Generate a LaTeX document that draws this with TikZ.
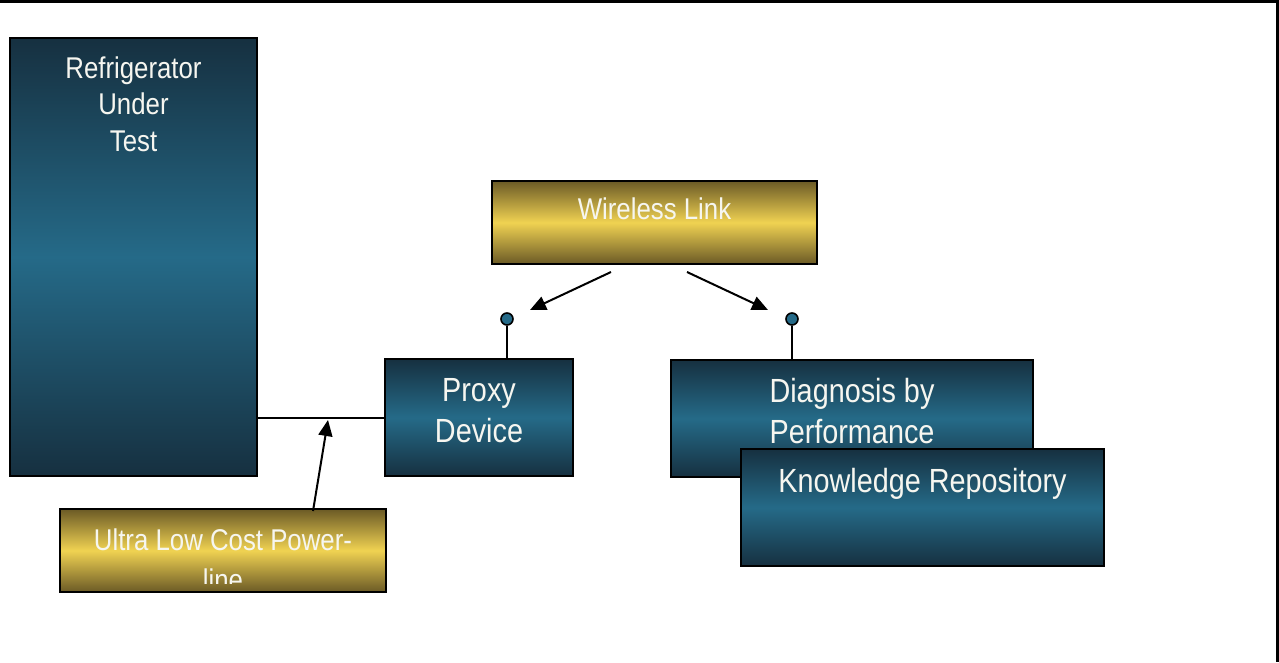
\documentclass[tikz,border=0pt]{standalone}
\usepackage{fontspec}
\newfontfamily\lab{Liberation Sans}[FakeStretch=0.86]
\usetikzlibrary{arrows.meta}
\definecolor{blueDark}{HTML}{163040}
\definecolor{blueMid}{HTML}{256A88}
\definecolor{goldDark}{HTML}{6B5A26}
\definecolor{goldMid}{HTML}{F0D252}
\definecolor{labText}{HTML}{F6F6F0}
\tikzset{
  bluebox/.style={draw=black, line width=2pt, rectangle, inner sep=0pt,
    top color=blueDark, bottom color=blueDark, middle color=blueMid},
  goldbox/.style={draw=black, line width=2pt, rectangle, inner sep=0pt,
    top color=goldDark, bottom color=goldDark, middle color=goldMid},
  % base anchor of a multi-line label sits on its last line
  lbl/.style={text=labText, align=center, inner sep=0pt, anchor=base},
  small/.style={font=\lab\fontsize{30}{36.5}\selectfont},
  large/.style={font=\lab\fontsize{33.5}{41}\selectfont},
  conn/.style={draw=black, line width=2pt},
  arrowconn/.style={conn, -{Triangle[length=16pt,width=14pt]}},
  antenna/.style={circle, draw=black, line width=1.6pt, fill=blueMid,
    minimum size=12pt, inner sep=0pt},
}
\begin{document}
\begin{tikzpicture}[x=1pt, y=-1pt]
  \useasboundingbox (0,0) rectangle (1279,662);
  % frame edges
  \draw[line width=3pt] (0,1.5) -- (1279,1.5);
  \draw[line width=3pt] (1277.5,0) -- (1277.5,662);

  % refrigerator
  \node[bluebox, minimum width=247pt, minimum height=438pt] (ref) at (133.5,257) {};
  \node[lbl, small] (refT) at ([yshift=-114pt]ref.north) {Refrigerator\\Under\\Test};

  % proxy device
  \node[bluebox, minimum width=188pt, minimum height=117pt] (proxy) at (479,417.5) {};
  \node[lbl, large] (proxyT) at ([yshift=-84pt]proxy.north) {Proxy\\Device};

  % wireless link
  \node[goldbox, minimum width=325pt, minimum height=83pt] (wl) at (654.5,222.5) {};
  \node[lbl, small] (wlT) at ([yshift=-39pt]wl.north) {Wireless Link};

  % power-line (second line runs past the box and is cut off)
  \node[goldbox, minimum width=326pt, minimum height=83pt] (ulc) at (223,550.5) {};
  \begin{scope}
    \clip (ulc.north west) rectangle ([yshift=10pt]ulc.south east);
    \node[lbl, font=\lab\fontsize{30}{40}\selectfont] (ulcT)
      at ([yshift=-82pt]ulc.north) {Ultra Low Cost Power-\\line};
  \end{scope}

  % diagnosis and repository
  \node[bluebox, minimum width=362pt, minimum height=117pt] (diag) at (852,418.5) {};
  \node[lbl, large] (diagT) at ([yshift=-84pt]diag.north) {Diagnosis by\\Performance};
  \node[bluebox, minimum width=363pt, minimum height=117pt] (repo) at (922.5,507.5) {};
  \node[lbl, large] (repoT) at ([yshift=-44pt]repo.north) {Knowledge Repository};

  % power-line link
  \draw[conn] (proxy.west) -- (proxy.west -| ref.east);
  \coordinate (tap) at (328,420);
  \draw[arrowconn] ([xshift=90pt, yshift=-3pt]ulc.north) -- (tap);

  % antennas
  \node[antenna] (antP) at (507,319) {};
  \node[antenna] (antD) at (792,319) {};
  \draw[conn, line width=1.6pt] (antP) -- (antP |- proxy.north);
  \draw[conn, line width=1.6pt] (antD) -- (antD |- diag.north);

  % radio links
  \coordinate (wlA) at (611,272);
  \coordinate (wlB) at (687,272);
  \coordinate (rxP) at (530,310);
  \coordinate (rxD) at (768,310);
  \draw[arrowconn] (wlA) -- (rxP);
  \draw[arrowconn] (wlB) -- (rxD);
\end{tikzpicture}
\end{document}
